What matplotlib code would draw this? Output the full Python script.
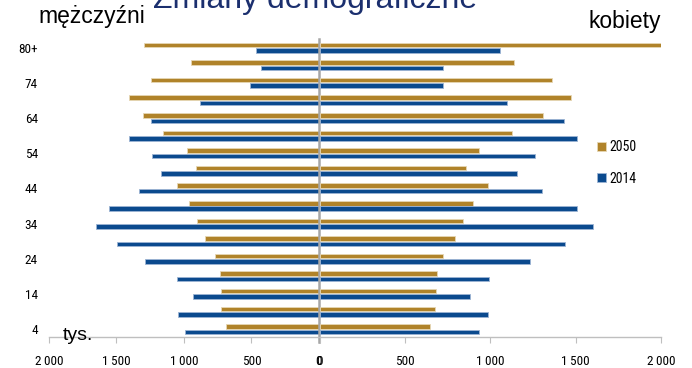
import matplotlib.pyplot as plt
import numpy as np
from matplotlib import font_manager
from matplotlib.ticker import FuncFormatter

# age groups, youngest first (0-4 ... 80+)
age_labels = ["4", "", "14", "", "24", "", "34", "", "44", "", "54", "",
              "64", "", "74", "", "80+"]

# thousands of people
men_2050 = [689, 723, 726, 731, 770, 847, 901, 963, 1052, 911, 980, 1153,
            1301, 1407, 1244, 948, 1294]
men_2014 = [993, 1042, 931, 1049, 1291, 1494, 1654, 1556, 1336, 1168, 1235, 1410,
            1247, 879, 509, 430, 469]
women_2050 = [643, 676, 678, 685, 722, 791, 840, 898, 988, 857, 935, 1129,
              1306, 1470, 1363, 1135, 2008]
women_2014 = [933, 986, 877, 992, 1234, 1439, 1603, 1510, 1305, 1158, 1260, 1510,
              1431, 1095, 722, 719, 1054]

GOLD = "#B0832A"
BLUE = "#0B4A8E"
GRID = "#BFBFBF"
SANS = ["Liberation Sans", "DejaVu Sans"]

# a narrow face for the small numbers if one is installed
installed = {f.name for f in font_manager.fontManager.ttflist}
narrow = [n for n in ("Liberation Sans Narrow", "Roboto Condensed",
                      "Open Sans Condensed", "DejaVu Sans Condensed") if n in installed]
NARROW = narrow[:1] + SANS
SMALL = 9.5 if narrow else 8.5

y = np.arange(len(age_labels))
h = 0.26
off = 0.155


def thousands(v, _):
    return f"{int(v):,}".replace(",", "\u2009") if v >= 1000 else f"{int(v)}"


fig = plt.figure(figsize=(6.92, 3.68), dpi=100)
ax_m = fig.add_axes([0.0708, 0.0842, 0.390, 0.810])
ax_w = fig.add_axes([0.4624, 0.0842, 0.4928, 0.810])

for ax, v50, v14 in ((ax_m, men_2050, men_2014), (ax_w, women_2050, women_2014)):
    ax.barh(y + off, v50, height=h, color=GOLD, edgecolor="#E6D7B5", lw=0.6,
            label="2050")
    ax.barh(y - off, v14, height=h, color=BLUE, edgecolor="#9DB4D4", lw=0.6,
            label="2014")
    ax.set_xlim(0, 2000)
    ax.set_ylim(-0.45, 16.5)
    ax.set_xticks([0, 500, 1000, 1500, 2000])
    ax.xaxis.set_major_formatter(FuncFormatter(thousands))
    ax.tick_params(axis="x", length=4.3, color=GRID, labelsize=SMALL, pad=9)
    for lab in ax.get_xticklabels():
        lab.set_family(NARROW)
    ax.spines["top"].set_visible(False)
    ax.spines["bottom"].set_color(GRID)
    ax.spines["bottom"].set_linewidth(1.0)
    ax.set_facecolor("none")

ax_m.invert_xaxis()
ax_m.spines["left"].set_visible(False)
ax_m.spines["right"].set_color("#A6A6A6")
ax_m.spines["right"].set_linewidth(1.8)
ax_m.spines["right"].set_bounds(-0.75, 16.5)
ax_m.set_yticks(y)
ax_m.set_yticklabels(age_labels, family=NARROW, fontsize=SMALL)
ax_m.tick_params(axis="y", length=0, pad=8)

ax_w.spines["left"].set_visible(False)
ax_w.spines["right"].set_visible(False)
ax_w.set_yticks([])

# series key on the right
handles, labels = ax_w.get_legend_handles_labels()
ax_w.legend(handles, labels, loc="upper left", bbox_to_anchor=(0.777, 0.702),
            frameon=False, handlelength=0.6, handleheight=0.6,
            handletextpad=0.25, labelspacing=1.25,
            prop={"family": NARROW, "size": SMALL + 0.5})

fig.text(0.455, 1.0 - 8 / 368, "Zmiany demograficzne", ha="center", va="baseline",
         fontsize=23, color="#1B2F6E", family=SANS)
fig.text(38 / 692, 1.0 - 23 / 368, "mężczyźni", ha="left", va="baseline",
         fontsize=16.5, color="black", family=SANS)
fig.text(661 / 692, 1.0 - 28 / 368, "kobiety", ha="right", va="baseline",
         fontsize=16.5, color="black", family=SANS)
fig.text(63 / 692, 1.0 - 340 / 368, "tys.", ha="left", va="baseline",
         fontsize=14, color="black", family=SANS)

fig.savefig("out.png", dpi=100)
